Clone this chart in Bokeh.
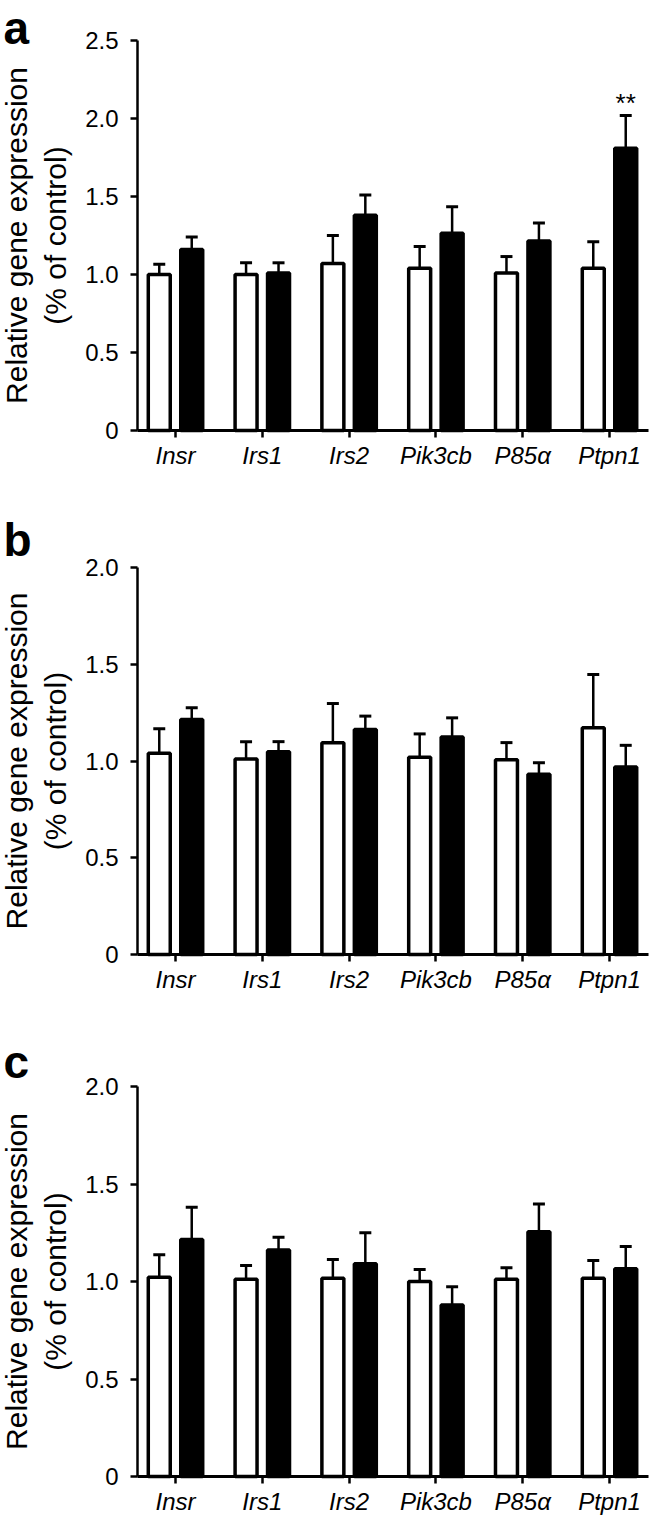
import numpy as np
from bokeh.plotting import figure
from bokeh.models import FixedTicker, CustomJSTickFormatter
from bokeh.layouts import column
from bokeh.embed import file_html
from bokeh.resources import INLINE
from bokeh.core.properties import value

# ---------------- data ----------------
genes = ["Insr", "Irs1", "Irs2", "Pik3cb", "P85α", "Ptpn1"]

# panel a
a_ctrl = [1.00, 1.00, 1.07, 1.04, 1.01, 1.04]
a_ctrl_err = [0.065, 0.075, 0.18, 0.14, 0.105, 0.17]
a_treat = [1.16, 1.01, 1.38, 1.265, 1.215, 1.81]
a_treat_err = [0.08, 0.065, 0.13, 0.17, 0.115, 0.21]
a_sig = ["", "", "", "", "", "**"]

# panel b
b_ctrl = [1.04, 1.01, 1.094, 1.02, 1.007, 1.172]
b_ctrl_err = [0.127, 0.09, 0.203, 0.12, 0.088, 0.275]
b_treat = [1.215, 1.048, 1.163, 1.124, 0.931, 0.969]
b_treat_err = [0.06, 0.052, 0.069, 0.099, 0.06, 0.112]
b_sig = ["", "", "", "", "", ""]

# panel c
c_ctrl = [1.022, 1.012, 1.017, 1.0, 1.012, 1.017]
c_ctrl_err = [0.115, 0.07, 0.096, 0.062, 0.058, 0.091]
c_treat = [1.215, 1.162, 1.091, 0.88, 1.255, 1.065]
c_treat_err = [0.166, 0.065, 0.159, 0.093, 0.142, 0.114]
c_sig = ["", "", "", "", "", ""]

y_max = [2.5, 2.0, 2.0]
letters = ["a", "b", "c"]
y_title = "Relative gene expression\n(% of control)"

FONT = "Liberation Sans"

# ---------------- layout (pixels) ----------------
W = 650
AXIS_X = 137          # page x of the y axis
AXIS_END_X = 648      # page x where the x axis line ends
CAT0_X = 175          # page x of first category centre
CAT_DX = 86.8         # px between categories
LETTER_X = 3
specs = [
    dict(height=500, base=430, axis=390, letter_gap=13),
    dict(height=520, base=454, axis=387, letter_gap=28),
    dict(height=498, base=456, axis=390, letter_gap=25),
]

X0 = -CAT0_X / CAT_DX
X1 = (W - CAT0_X) / CAT_DX
X_AXIS = (AXIS_X - CAT0_X) / CAT_DX
X_AXIS_END = (AXIS_END_X - CAT0_X) / CAT_DX


def make_panel(i, ctrl, ctrl_err, treat, treat_err, sig):
    sp = specs[i]
    ppu = sp["axis"] / y_max[i]                      # px per data unit (y)
    y_end = sp["base"] / ppu
    y_start = -(sp["height"] - sp["base"]) / ppu
    p = figure(width=W, height=sp["height"], x_range=(X0, X1), y_range=(y_start, y_end),
               output_backend="svg", toolbar_location=None,
               min_border_left=0, min_border_right=0,
               min_border_top=0, min_border_bottom=0)
    p.outline_line_color = None
    p.xgrid.visible = False
    p.ygrid.visible = False
    p.background_fill_color = "white"
    p.border_fill_color = "white"

    xs = np.arange(len(genes), dtype=float)
    off = 0.187
    bw = 0.253
    cap = 0.069
    xc = xs - off
    xt = xs + off
    ctrl = np.array(ctrl); ctrl_err = np.array(ctrl_err)
    treat = np.array(treat); treat_err = np.array(treat_err)

    # error bars (upper only)
    for x, m, e in ((xc, ctrl, ctrl_err), (xt, treat, treat_err)):
        p.segment(x0=x, y0=m, x1=x, y1=m + e, line_color="black", line_width=2.5)
        p.segment(x0=x - cap, y0=m + e, x1=x + cap, y1=m + e, line_color="black", line_width=3)

    p.vbar(x=xc, top=ctrl, bottom=0, width=bw, fill_color="white", line_color="black", line_width=3.5)
    p.vbar(x=xt, top=treat, bottom=0, width=bw, fill_color="black", line_color="black", line_width=3.5)

    # significance marks
    sx = [x for x, s in zip(xt, sig) if s]
    sy = [m + e + 12 / ppu for m, e, s in zip(treat, treat_err, sig) if s]
    st = [s for s in sig if s]
    if st:
        p.text(x=sx, y=sy, text=st, text_align="center", text_baseline="alphabetic",
               text_font=value(FONT), text_font_size="26px", text_color="black")

    # panel letter
    p.text(x=[X0 + LETTER_X / CAT_DX], y=[y_max[i] + sp["letter_gap"] / ppu], text=[letters[i]],
           text_align="left", text_baseline="alphabetic", text_font=value(FONT),
           text_font_style="bold", text_font_size="46px", text_color="black")

    # y axis (fixed inside the frame)
    ya = p.yaxis[0]
    ya.fixed_location = X_AXIS
    ya.bounds = (0, y_max[i])
    ya.ticker = FixedTicker(ticks=list(np.arange(0, y_max[i] + 0.01, 0.5)))
    ya.formatter = CustomJSTickFormatter(code="return tick == 0 ? '0' : tick.toFixed(1);")
    ya.axis_line_width = 2.5
    ya.axis_line_color = "black"
    ya.major_tick_line_width = 2.5
    ya.major_tick_out = 7
    ya.major_tick_in = 0
    ya.minor_tick_line_color = None
    ya.major_label_text_font = FONT
    ya.major_label_text_font_size = "24px"
    ya.major_label_text_color = "black"
    ya.major_label_standoff = 12
    ya.axis_label = y_title
    ya.axis_label_text_font = FONT
    ya.axis_label_text_font_size = "30px"
    ya.axis_label_text_font_style = "normal"
    ya.axis_label_text_color = "black"
    ya.axis_label_standoff = 10

    # x axis (fixed at y = 0)
    xa = p.xaxis[0]
    xa.fixed_location = 0
    xa.bounds = (X_AXIS, X_AXIS_END)
    xa.ticker = FixedTicker(ticks=list(xs))
    xa.formatter = CustomJSTickFormatter(args=dict(names=genes),
                                         code="return names[Math.round(tick)];")
    xa.axis_line_width = 3
    xa.axis_line_color = "black"
    xa.major_tick_line_width = 2.5
    xa.major_tick_out = 7
    xa.major_tick_in = 0
    xa.minor_tick_line_color = None
    xa.major_label_text_font = FONT
    xa.major_label_text_font_style = "italic"
    xa.major_label_text_font_size = "24px"
    xa.major_label_text_color = "black"
    xa.major_label_standoff = 4
    return p


pa = make_panel(0, a_ctrl, a_ctrl_err, a_treat, a_treat_err, a_sig)
pb = make_panel(1, b_ctrl, b_ctrl_err, b_treat, b_treat_err, b_sig)
pc = make_panel(2, c_ctrl, c_ctrl_err, c_treat, c_treat_err, c_sig)

layout = column(pa, pb, pc, spacing=0)
open("out.html", "w").write(file_html(layout, INLINE))
